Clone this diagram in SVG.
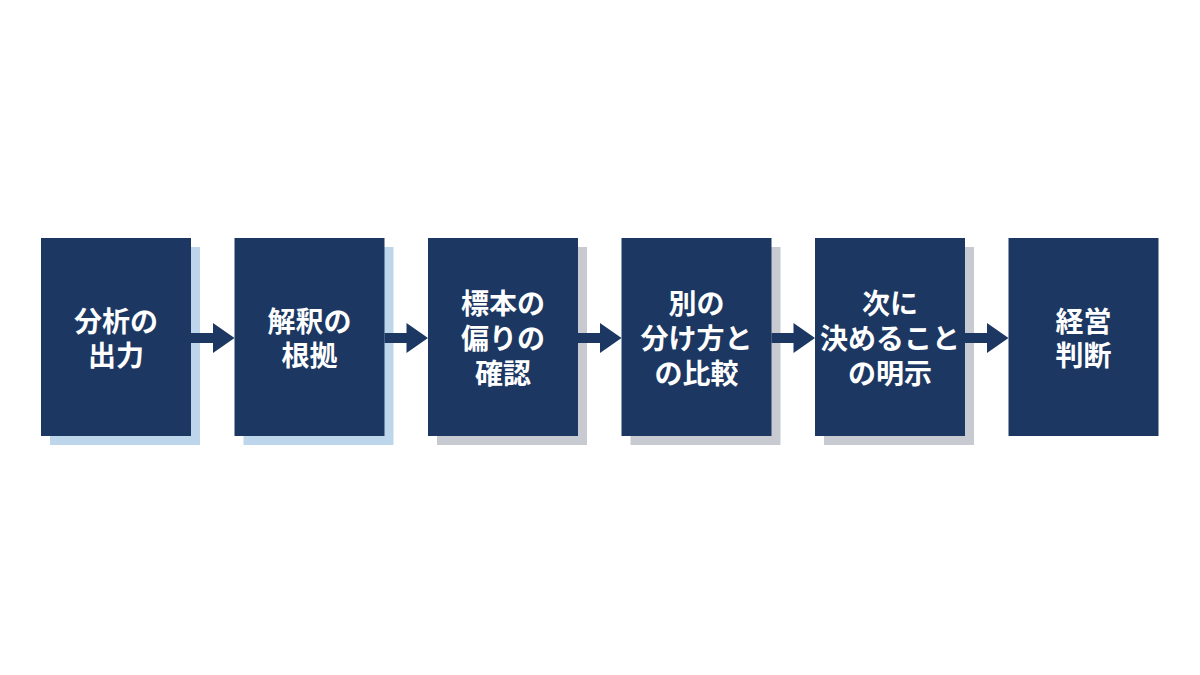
<svg xmlns="http://www.w3.org/2000/svg" width="1200" height="675" viewBox="0 0 1200 675">
<style>
.box{fill:#1c3862}
.sb{fill:#bed6ec}
.sg{fill:#c7cbd1}
.t{fill:#ffffff;font-family:"Noto Sans CJK JP","Noto Sans",sans-serif;font-weight:700;font-size:28px;text-anchor:middle}
.ar{fill:#1c3862}
</style>
<rect width="1200" height="675" fill="#ffffff"/>
<g id="node1">
<rect class="sb" x="50" y="247" width="150" height="198"/>
<rect class="box" x="41" y="238" width="150" height="198"/>
<text class="t" x="116" y="332">分析の<tspan x="116" dy="34">出力</tspan></text>
</g>
<g id="node2">
<rect class="sb" x="243.5" y="247" width="150" height="198"/>
<rect class="box" x="234.5" y="238" width="150" height="198"/>
<text class="t" x="309.5" y="332">解釈の<tspan x="309.5" dy="34">根拠</tspan></text>
</g>
<g id="node3">
<rect class="sg" x="437" y="247" width="150" height="198"/>
<rect class="box" x="428" y="238" width="150" height="198"/>
<text class="t" x="503" y="314">標本の<tspan x="503" dy="35">偏りの</tspan><tspan x="503" dy="35">確認</tspan></text>
</g>
<g id="node4">
<rect class="sg" x="630.5" y="247" width="150" height="198"/>
<rect class="box" x="621.5" y="238" width="150" height="198"/>
<text class="t" x="696.5" y="314">別の<tspan x="696.5" dy="35">分け方と</tspan><tspan x="696.5" dy="35">の比較</tspan></text>
</g>
<g id="node5">
<rect class="sg" x="824" y="247" width="150" height="198"/>
<rect class="box" x="815" y="238" width="150" height="198"/>
<text class="t" x="890" y="314">次に<tspan x="890" dy="35">決めること</tspan><tspan x="890" dy="35">の明示</tspan></text>
</g>
<g id="node6">
<rect class="box" x="1008.5" y="238" width="150" height="198"/>
<text class="t" x="1083.5" y="332">経営<tspan x="1083.5" dy="34">判断</tspan></text>
</g>
<g id="connectors">
<path class="ar" d="M191 333H213V323L234.5 338L213 353V343H191Z"/>
<path class="ar" d="M384.5 333H406.5V323L428 338L406.5 353V343H384.5Z"/>
<path class="ar" d="M578 333H600V323L621.5 338L600 353V343H578Z"/>
<path class="ar" d="M771.5 333H793.5V323L815 338L793.5 353V343H771.5Z"/>
<path class="ar" d="M965 333H987V323L1008.5 338L987 353V343H965Z"/>
</g>
</svg>
